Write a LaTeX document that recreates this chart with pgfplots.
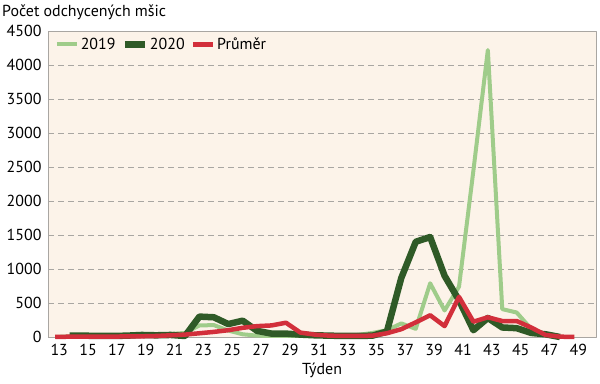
\documentclass[border=0pt]{standalone}
\usepackage{pgfplots}
\pgfplotsset{compat=1.18}
\usepackage{fontspec}
\setmainfont{PT Sans}
\definecolor{c19}{HTML}{9FCC8A}
\definecolor{c20}{HTML}{2F5A27}
\definecolor{cavg}{HTML}{D22F3B}
\definecolor{bg}{HTML}{FCF3E9}
\definecolor{grd}{HTML}{A9A6A2}
\begin{document}
\begin{tikzpicture}[x=1bp,y=1bp]
\begin{axis}[
  at={(48bp,47bp)}, anchor=south west,
  scale only axis, width=548bp, height=306bp,
  xmin=12.5, xmax=50.5, ymin=0, ymax=4500,
  xtick={13,15,...,49}, ytick={0,500,...,4500},
  major tick length=0pt,
  axis background/.style={fill=bg},
  axis line style={draw=grd, line width=0.9bp},
  ymajorgrids, grid style={grd, line width=0.8bp, dash pattern=on 6bp off 4bp},
  tick label style={font=\fontsize{16}{19}\selectfont},
  xticklabel style={yshift=-4bp, xshift=4bp},
  yticklabel style={xshift=-3bp},
  /pgf/number format/assume math mode=true,
  /pgf/number format/1000 sep={},
  xlabel={Týden},
  xlabel style={font=\fontsize{16}{19}\selectfont, at={(axis description cs:0.5,-0.108)}, anchor=center},
  clip=false,
  legend columns=3,
  legend cell align=left,
  legend style={draw=none, fill=none, font=\fontsize{16}{19}\selectfont,
    at={(0.012,0.985)}, anchor=north west, inner sep=0pt,
    /tikz/every even column/.append style={column sep=4bp}},
  legend image code/.code={\draw[#1] (0bp,0bp) -- (20bp,0bp);},
  line join=round,
]
\addplot[c19, line width=4bp] coordinates {
(13,0) (14,10) (15,10) (16,10) (17,15) (18,20) (19,25) (20,30) (21,45) (22,60)
(23,170) (24,175) (25,95) (26,40) (27,20) (28,15) (29,15) (30,15) (31,15) (32,15)
(33,20) (34,30) (35,60) (36,100) (37,200) (38,120) (39,790) (40,390) (41,740) (42,2450)
(43,4220) (44,410) (45,360) (46,120) (47,40) (48,0)
};
\addlegendentry{2019}
\addplot[c20, line width=6.5bp] coordinates {
(14,20) (15,20) (16,15) (17,15) (18,20) (19,30) (20,25) (21,30) (22,15)
(23,300) (24,290) (25,190) (26,240) (27,90) (28,50) (29,50) (30,35) (31,25) (32,20)
(33,15) (34,15) (35,20) (36,80) (37,870) (38,1400) (39,1470) (40,900) (41,540) (42,100)
(43,280) (44,140) (45,130) (46,60) (47,40) (48,0)
};
\addlegendentry{2020}
\addplot[cavg, line width=4.5bp] coordinates {
(13,0) (14,5) (15,5) (16,5) (17,5) (18,10) (19,10) (20,15) (21,25) (22,35)
(23,55) (24,75) (25,100) (26,135) (27,160) (28,170) (29,210) (30,65) (31,35) (32,20)
(33,15) (34,15) (35,20) (36,55) (37,115) (38,215) (39,320) (40,160) (41,590) (42,225)
(43,290) (44,235) (45,235) (46,140) (47,30) (48,5) (49,0)
};
\addlegendentry{Průměr}
\end{axis}
\node[anchor=west, font=\fontsize{16}{19}\selectfont, inner sep=0pt] at (2bp,372bp) {Počet odchycených mšic};
\pgfresetboundingbox
\useasboundingbox (0bp,0bp) rectangle (600bp,384bp);
\end{tikzpicture}
\end{document}
